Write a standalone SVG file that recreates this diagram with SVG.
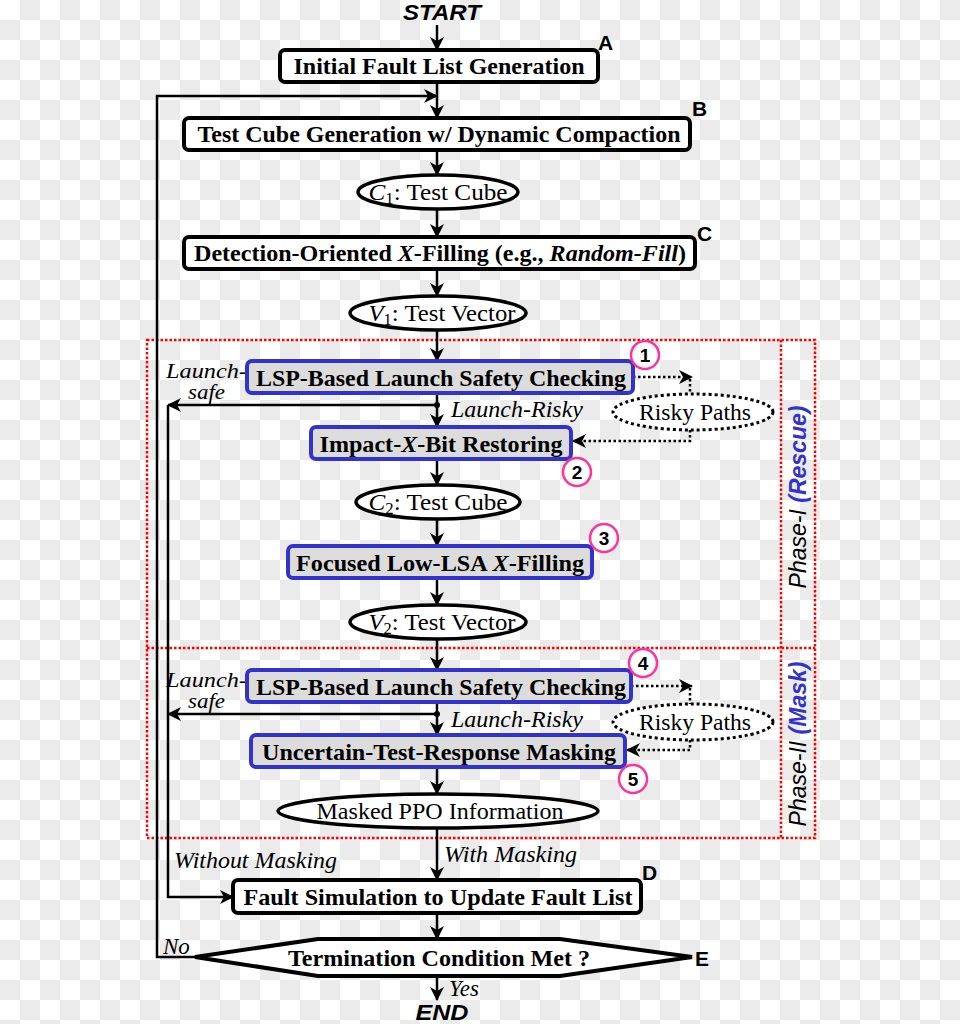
<svg xmlns="http://www.w3.org/2000/svg" width="960" height="1024" viewBox="0 0 960 1024">
<defs>
<pattern id="chk" width="40" height="40" patternUnits="userSpaceOnUse">
<rect width="40" height="40" fill="#ffffff"/>
<rect x="20" y="0" width="20" height="20" fill="#ebebeb"/>
<rect x="0" y="20" width="20" height="20" fill="#ebebeb"/>
</pattern>
<marker id="ah" viewBox="0 0 14 14" refX="13" refY="7" markerWidth="14" markerHeight="14" markerUnits="userSpaceOnUse" orient="auto">
<path d="M0,0 L14,7 L0,14 L4,7 z" fill="#000"/>
</marker>
<style>
.box{fill:#fff;stroke:#000;stroke-width:4}
.bbox{fill:#dcdcdc;stroke:#3333cc;stroke-width:4}
.ell{fill:#fff;stroke:#000;stroke-width:3.5}
.dell{fill:#fff;stroke:#000;stroke-width:3;stroke-dasharray:3 3}
.bt{font-family:"Liberation Serif",serif;font-weight:bold;font-size:23px;fill:#000;text-anchor:middle}
.rt{font-family:"Liberation Serif",serif;font-size:24px;fill:#000;text-anchor:middle}
.it{font-family:"Liberation Serif",serif;font-style:italic;font-size:23px;fill:#000}
.its{font-family:"Liberation Serif",serif;font-style:italic;font-size:20px;fill:#000}
.lab{font-family:"Liberation Sans",sans-serif;font-weight:bold;font-size:21px;fill:#000}
.num{font-family:"Liberation Sans",sans-serif;font-weight:bold;font-size:19px;fill:#000;text-anchor:middle}
.circ{fill:#fff;stroke:#ff3399;stroke-width:2.5}
.ln{fill:none;stroke:#000;stroke-width:2.5}
.dl{fill:none;stroke:#000;stroke-width:2.5;stroke-dasharray:2.5 2.5}
.red{fill:none;stroke:#ff0000;stroke-width:2.5;stroke-dasharray:2.5 2}
.term{font-family:"Liberation Sans",sans-serif;font-weight:bold;font-style:italic;font-size:22px;fill:#000;text-anchor:middle}
</style>
</defs>
<rect width="960" height="1024" fill="url(#chk)"/>

<g id="phase-frame">
<rect class="red" x="147" y="340" width="668" height="498"/>
<line class="red" x1="147" y1="648" x2="815" y2="648"/>
<line class="red" x1="781" y1="340" x2="781" y2="838"/>
<text transform="translate(806,497) rotate(-90)" font-family="Liberation Sans,sans-serif" font-style="italic" font-size="23" text-anchor="middle"><tspan fill="#000">Phase-I </tspan><tspan fill="#3333cc" font-weight="bold">(Rescue)</tspan></text>
<text transform="translate(806,744) rotate(-90)" font-family="Liberation Sans,sans-serif" font-style="italic" font-size="23" text-anchor="middle"><tspan fill="#000">Phase-II </tspan><tspan fill="#3333cc" font-weight="bold">(Mask)</tspan></text>
</g>

<g id="connectors">
<path class="ln" d="M437,25 V50" marker-end="url(#ah)"/>
<path class="ln" d="M437,82 V118" marker-end="url(#ah)"/>
<path class="ln" d="M195,957 H157 V96 H437" marker-end="url(#ah)"/>
<path class="ln" d="M437,150 V175" marker-end="url(#ah)"/>
<path class="ln" d="M437,209 V237" marker-end="url(#ah)"/>
<path class="ln" d="M437,269 V296" marker-end="url(#ah)"/>
<path class="ln" d="M437,330 V361" marker-end="url(#ah)"/>
<path class="ln" d="M437,393 V427" marker-end="url(#ah)"/>
<path class="ln" d="M437,405 H168" marker-end="url(#ah)"/>
<circle cx="437" cy="405" r="3" fill="#000"/>
<path class="ln" d="M437,459 V485" marker-end="url(#ah)"/>
<path class="ln" d="M437,519 V546" marker-end="url(#ah)"/>
<path class="ln" d="M437,578 V605" marker-end="url(#ah)"/>
<path class="ln" d="M437,639 V670" marker-end="url(#ah)"/>
<path class="ln" d="M437,702 V735" marker-end="url(#ah)"/>
<path class="ln" d="M437,714 H168" marker-end="url(#ah)"/>
<circle cx="437" cy="714" r="3" fill="#000"/>
<path class="ln" d="M437,767 V794" marker-end="url(#ah)"/>
<path class="ln" d="M437,828 V880" marker-end="url(#ah)"/>
<path class="ln" d="M168,405 V897 H233" marker-end="url(#ah)"/>
<path class="ln" d="M437,913 V939" marker-end="url(#ah)"/>
<path class="ln" d="M437,976 V1000" marker-end="url(#ah)"/>
<path class="dl" d="M633,377 H692" marker-end="url(#ah)"/>
<path class="dl" d="M690,379 V394"/>
<path class="dl" d="M690,430 V441 H573" marker-end="url(#ah)"/>
<path class="dl" d="M631,686 H692" marker-end="url(#ah)"/>
<path class="dl" d="M690,688 V704"/>
<path class="dl" d="M690,740 V750 H627" marker-end="url(#ah)"/>
<text class="it" x="451" y="417" textLength="132" lengthAdjust="spacingAndGlyphs">Launch-Risky</text>
<text class="it" x="451" y="727" textLength="132" lengthAdjust="spacingAndGlyphs">Launch-Risky</text>
<text class="its" x="166" y="378" textLength="81" lengthAdjust="spacingAndGlyphs">Launch-</text>
<text class="its" x="188" y="399" textLength="37" lengthAdjust="spacingAndGlyphs">safe</text>
<text class="its" x="166" y="687" textLength="81" lengthAdjust="spacingAndGlyphs">Launch-</text>
<text class="its" x="188" y="708" textLength="37" lengthAdjust="spacingAndGlyphs">safe</text>
<text class="it" x="444" y="862" textLength="133" lengthAdjust="spacingAndGlyphs">With Masking</text>
<text class="it" x="174" y="868" textLength="163" lengthAdjust="spacingAndGlyphs">Without Masking</text>
<text class="it" x="163" y="954">No</text>
<text class="it" x="449" y="996">Yes</text>
</g>

<g id="start"><text class="term" x="442" y="20" textLength="78" lengthAdjust="spacingAndGlyphs">START</text></g>
<g id="end"><text class="term" x="442" y="1020" textLength="53" lengthAdjust="spacingAndGlyphs">END</text></g>

<g id="nodeA">
<rect class="box" x="280" y="50" width="318" height="32" rx="5"/>
<text class="bt" x="439" y="74" textLength="291" lengthAdjust="spacingAndGlyphs">Initial Fault List Generation</text>
<text class="lab" x="598" y="50">A</text>
</g>

<g id="nodeB">
<rect class="box" x="184" y="118" width="506" height="32" rx="5"/>
<text class="bt" x="439" y="142" textLength="483" lengthAdjust="spacingAndGlyphs">Test Cube Generation w/ Dynamic Compaction</text>
<text class="lab" x="692" y="116">B</text>
</g>

<g id="c1">
<ellipse class="ell" cx="438" cy="192" rx="80" ry="17"/>
<text class="rt" x="438" y="200" textLength="139" lengthAdjust="spacingAndGlyphs"><tspan font-style="italic">C</tspan><tspan font-size="16" dy="4">1</tspan><tspan dy="-4">: Test Cube</tspan></text>
</g>

<g id="nodeC">
<rect class="box" x="184" y="237" width="511" height="32" rx="5"/>
<text class="bt" x="440" y="261" textLength="492" lengthAdjust="spacingAndGlyphs">Detection-Oriented <tspan font-style="italic">X</tspan>-Filling (e.g., <tspan font-style="italic">Random-Fill</tspan>)</text>
<text class="lab" x="697" y="241">C</text>
</g>

<g id="v1">
<ellipse class="ell" cx="438" cy="313" rx="88" ry="17"/>
<text class="rt" x="442" y="321" textLength="147" lengthAdjust="spacingAndGlyphs"><tspan font-style="italic">V</tspan><tspan font-size="16" dy="4">1</tspan><tspan dy="-4">: Test Vector</tspan></text>
</g>

<g id="step1">
<rect class="bbox" x="247" y="361" width="386" height="32" rx="5"/>
<text class="bt" x="441" y="386" textLength="370" lengthAdjust="spacingAndGlyphs">LSP-Based Launch Safety Checking</text>
<circle class="circ" cx="645" cy="355" r="14"/>
<text class="num" x="645" y="362">1</text>
</g>

<g id="risky1">
<ellipse class="dell" cx="693" cy="412" rx="80" ry="18"/>
<text class="rt" x="695" y="420" textLength="112" lengthAdjust="spacingAndGlyphs">Risky Paths</text>
</g>

<g id="step2">
<rect class="bbox" x="311" y="427" width="260" height="32" rx="5"/>
<text class="bt" x="441" y="452" textLength="243" lengthAdjust="spacingAndGlyphs">Impact-<tspan font-style="italic">X</tspan>-Bit Restoring</text>
<circle class="circ" cx="577" cy="472" r="14"/>
<text class="num" x="577" y="479">2</text>
</g>

<g id="c2">
<ellipse class="ell" cx="438" cy="502" rx="82" ry="17"/>
<text class="rt" x="438" y="510" textLength="139" lengthAdjust="spacingAndGlyphs"><tspan font-style="italic">C</tspan><tspan font-size="16" dy="4">2</tspan><tspan dy="-4">: Test Cube</tspan></text>
</g>

<g id="step3">
<rect class="bbox" x="288" y="546" width="304" height="32" rx="5"/>
<text class="bt" x="440" y="571" textLength="288" lengthAdjust="spacingAndGlyphs">Focused Low-LSA <tspan font-style="italic">X</tspan>-Filling</text>
<circle class="circ" cx="604" cy="538" r="14"/>
<text class="num" x="604" y="545">3</text>
</g>

<g id="v2">
<ellipse class="ell" cx="438" cy="622" rx="88" ry="17"/>
<text class="rt" x="442" y="630" textLength="147" lengthAdjust="spacingAndGlyphs"><tspan font-style="italic">V</tspan><tspan font-size="16" dy="4">2</tspan><tspan dy="-4">: Test Vector</tspan></text>
</g>

<g id="step4">
<rect class="bbox" x="247" y="670" width="384" height="32" rx="5"/>
<text class="bt" x="441" y="695" textLength="370" lengthAdjust="spacingAndGlyphs">LSP-Based Launch Safety Checking</text>
<circle class="circ" cx="643" cy="663" r="14"/>
<text class="num" x="643" y="670">4</text>
</g>

<g id="risky2">
<ellipse class="dell" cx="693" cy="722" rx="80" ry="18"/>
<text class="rt" x="695" y="730" textLength="112" lengthAdjust="spacingAndGlyphs">Risky Paths</text>
</g>

<g id="step5">
<rect class="bbox" x="251" y="735" width="374" height="32" rx="5"/>
<text class="bt" x="439" y="760" textLength="354" lengthAdjust="spacingAndGlyphs">Uncertain-Test-Response Masking</text>
<circle class="circ" cx="633" cy="779" r="14"/>
<text class="num" x="633" y="786">5</text>
</g>

<g id="ppo">
<ellipse class="ell" cx="438" cy="811" rx="160" ry="17"/>
<text class="rt" x="440" y="819" textLength="247" lengthAdjust="spacingAndGlyphs">Masked PPO Information</text>
</g>

<g id="nodeD">
<rect class="box" x="233" y="880" width="408" height="33" rx="5"/>
<text class="bt" x="438" y="905" textLength="389" lengthAdjust="spacingAndGlyphs">Fault Simulation to Update Fault List</text>
<text class="lab" x="642" y="880">D</text>
</g>

<g id="nodeE">
<polygon points="195,957 318,939 560,939 692,957 560,976 318,976" fill="#fff" stroke="#000" stroke-width="4"/>
<text class="bt" x="439" y="966" textLength="302" lengthAdjust="spacingAndGlyphs">Termination Condition Met ?</text>
<text class="lab" x="695" y="966">E</text>
</g>
</svg>
